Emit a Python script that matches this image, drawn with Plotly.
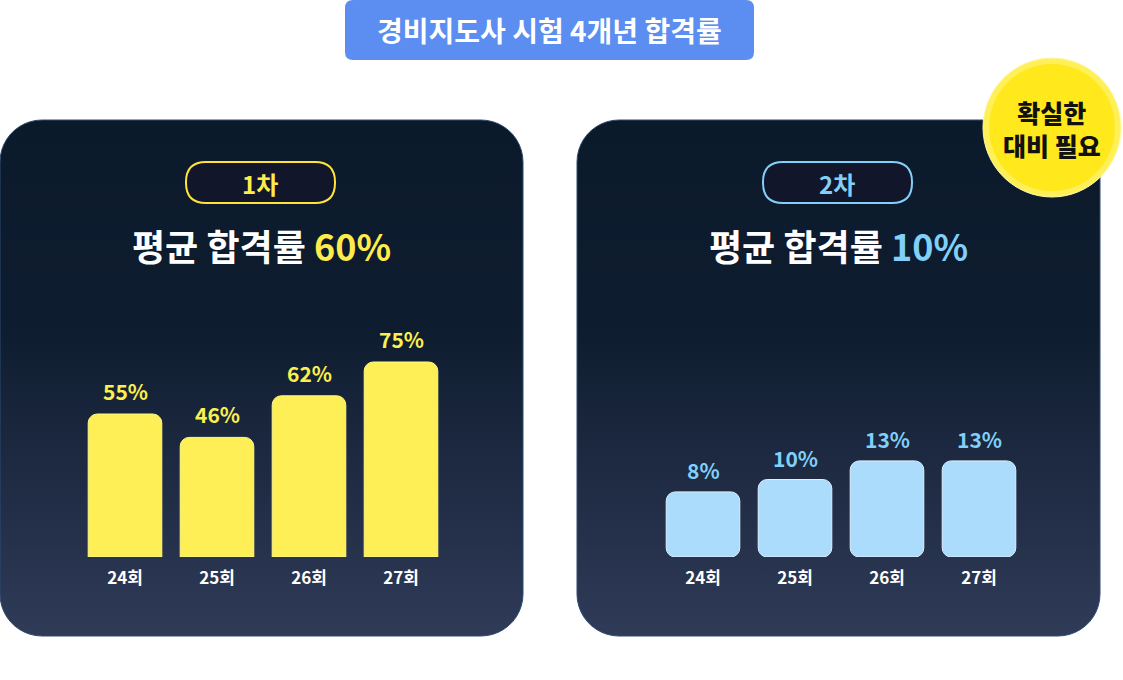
import numpy as np
import plotly.graph_objects as go

W, H = 1123, 680
FONT = "Noto Sans CJK KR"

# data
rounds = ["24회", "25회", "26회", "27회"]
first_rates = [55, 46, 62, 75]
second_rates = [8, 10, 13, 13]
first_avg = 60
second_avg = 10
title_text = "경비지도사 시험 4개년 합격률"
badge_text = "확실한<br>대비 필요"

YELLOW = "#ffec4a"
BLUE = "#80d0fa"
RIGHT_FLOOR = -2.5  # 2nd panel bars start a bit below zero


def rounded_poly(x0, y0, x1, y1, r, n=12):
    # polygon for a rounded rectangle in pixel coords (y down)
    pts = []
    corners = [(x1 - r, y0 + r, -90, 0), (x1 - r, y1 - r, 0, 90),
               (x0 + r, y1 - r, 90, 180), (x0 + r, y0 + r, 180, 270)]
    for cx, cy, a0, a1 in corners:
        for a in np.linspace(np.radians(a0), np.radians(a1), n):
            pts.append((cx + r * np.cos(a), cy + r * np.sin(a)))
    pts.append(pts[0])
    xs, ys = zip(*pts)
    return list(xs), list(ys)


def rounded_path(x0, y0, x1, y1, r):
    return (f"M{x0 + r},{y0} L{x1 - r},{y0} Q{x1},{y0} {x1},{y0 + r} "
            f"L{x1},{y1 - r} Q{x1},{y1} {x1 - r},{y1} L{x0 + r},{y1} "
            f"Q{x0},{y1} {x0},{y1 - r} L{x0},{y0 + r} Q{x0},{y0} {x0 + r},{y0} Z")


fig = go.Figure()

# background panels with vertical gradient (pixel axes x/y)
for px0, px1 in [(0, 523), (577, 1100)]:
    xs, ys = rounded_poly(px0, 120, px1, 636, 42)
    fig.add_trace(go.Scatter(
        x=xs, y=ys, mode="lines", fill="toself",
        line=dict(color="#2e4a72", width=1),
        fillgradient=dict(type="vertical",
                          colorscale=[[0, "#303b58"], [0.6, "#0e1c2f"], [1, "#0b1a2b"]]),
        hoverinfo="skip", showlegend=False, xaxis="x", yaxis="y"))

# bars
fig.add_trace(go.Bar(
    x=rounds, y=first_rates, xaxis="x2", yaxis="y2",
    marker=dict(color="#fdef55", cornerradius=9, line=dict(color="#fff98a", width=1)),
    hoverinfo="skip", showlegend=False))
fig.add_trace(go.Bar(
    x=rounds, y=[v - RIGHT_FLOOR for v in second_rates], base=RIGHT_FLOOR,
    xaxis="x3", yaxis="y3",
    marker=dict(color="#abdcfc", cornerradius=9, line=dict(color="#dff1ff", width=1)),
    hoverinfo="skip", showlegend=False))

annotations = []
for r, v in zip(rounds, first_rates):
    annotations.append(dict(x=r, y=v, xref="x2", yref="y2", yshift=23,
                            text=f"{v}%", showarrow=False,
                            font=dict(family=FONT, size=21, color="#fbf04e", weight=700)))
for r, v in zip(rounds, second_rates):
    annotations.append(dict(x=r, y=v, xref="x3", yref="y3", yshift=22,
                            text=f"{v}%", showarrow=False,
                            font=dict(family=FONT, size=21, color=BLUE, weight=700)))

# headings
annotations.append(dict(x=549, y=30, xref="x", yref="y", text=title_text, showarrow=False,
                        font=dict(family=FONT, size=28, color="white", weight=700)))
annotations.append(dict(x=260, y=183, xref="x", yref="y", text="1차", showarrow=False,
                        font=dict(family=FONT, size=24, color=YELLOW, weight=700)))
annotations.append(dict(x=837, y=183, xref="x", yref="y", text="2차", showarrow=False,
                        font=dict(family=FONT, size=24, color=BLUE, weight=700)))
annotations.append(dict(x=261, y=245, xref="x", yref="y", showarrow=False,
                        text=f"평균 합격률 <span style='color:{YELLOW}'>{first_avg}%</span>",
                        font=dict(family=FONT, size=36, color="white", weight=700)))
annotations.append(dict(x=838, y=245, xref="x", yref="y", showarrow=False,
                        text=f"평균 합격률 <span style='color:{BLUE}'>{second_avg}%</span>",
                        font=dict(family=FONT, size=36, color="white", weight=700)))
annotations.append(dict(x=1052, y=128, xref="x", yref="y", text=badge_text, showarrow=False,
                        font=dict(family=FONT, size=25, color="#111111", weight=800)))

shapes = [
    dict(type="path", path=rounded_path(345, 0, 754, 60, 8), xref="x", yref="y",
         fillcolor="#5b8ef0", line=dict(width=0)),
    dict(type="path", path=rounded_path(186, 162, 335, 203, 20), xref="x", yref="y",
         fillcolor="#11162a", line=dict(color="#ffe23c", width=2)),
    dict(type="path", path=rounded_path(763, 162, 912, 203, 20), xref="x", yref="y",
         fillcolor="#11162a", line=dict(color=BLUE, width=2)),
    dict(type="circle", x0=983, x1=1121, y0=58, y1=197, xref="x", yref="y",
         fillcolor="#fff05a", line=dict(color="#fff9a8", width=1)),
    dict(type="circle", x0=989, x1=1115, y0=64, y1=191, xref="x", yref="y",
         fillcolor="#ffe81c", line=dict(width=0)),
]

axis_off = dict(visible=False, showgrid=False, zeroline=False, fixedrange=True)
tick_font = dict(family=FONT, size=17, color="white", weight=600)

fig.update_layout(
    width=W, height=H, margin=dict(l=0, r=0, t=0, b=0),
    paper_bgcolor="white", plot_bgcolor="rgba(0,0,0,0)",
    bargap=0.2,
    xaxis=dict(axis_off, domain=[0, 1], range=[0, W]),
    yaxis=dict(axis_off, domain=[0, 1], range=[H, 0]),
    xaxis2=dict(domain=[79 / W, 447 / W], anchor="y2", showgrid=False, zeroline=False,
                showline=False, ticks="", tickfont=tick_font, ticklabelstandoff=9),
    yaxis2=dict(axis_off, domain=[1 - 557 / H, 1 - 297 / H], anchor="x2", range=[0, 100]),
    xaxis3=dict(domain=[657 / W, 1025 / W], anchor="y3", showgrid=False, zeroline=False,
                showline=False, ticks="", tickfont=tick_font, ticklabelstandoff=9),
    yaxis3=dict(axis_off, domain=[1 - 557 / H, 1 - 297 / H], anchor="x3",
                range=[RIGHT_FLOOR, RIGHT_FLOOR + 260 / 6.2]),
    annotations=annotations, shapes=shapes,
)

# page body has a default margin; drop it so the figure sits at the corner
fig.write_html("out.html", config={"displayModeBar": False},
               post_script="document.body.style.margin='0';")
